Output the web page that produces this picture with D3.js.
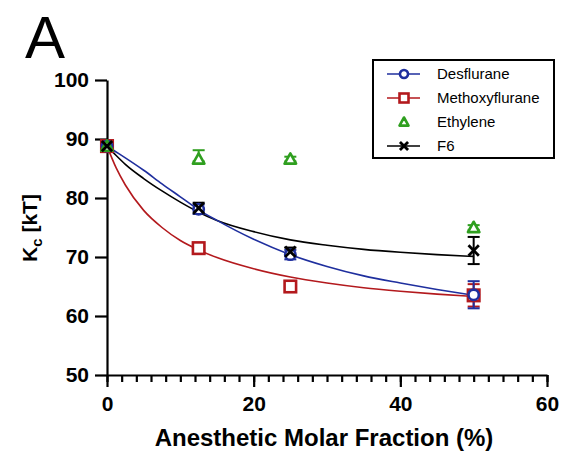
<!DOCTYPE html>
<html>
<head>
<meta charset="utf-8">
<script src="https://cdn.jsdelivr.net/npm/d3@7"></script>
<style>
  body { margin: 0; background: #fff; }
  svg { font-family: "Liberation Sans", Arial, sans-serif; }
  .axis path, .axis line { stroke: #000; stroke-width: 2.2px; }
  .axis text { font-size: 21px; font-weight: bold; fill: #000; }
</style>
</head>
<body>
<svg width="563" height="455"></svg>
<script>
// measured points
var fractions = [0, 12.5, 25, 50];
var desflurane = [88.8, 78.1, 70.4, 63.6];
var desfluraneErr = [0.5, 0.8, 0.8, 2.3];
var methoxyflurane = [88.8, 71.5, 65.0, 63.5];
var methoxyfluraneErr = [0.5, 0.6, 0.6, 1.9];
var ethylene = [88.8, 86.6, 86.6, 75.0];
var ethyleneErrUp = [0.5, 1.5, 0.4, 0.4];
var ethyleneErrDown = [0.5, 0.4, 0.4, 0.4];
var f6 = [88.8, 78.3, 70.9, 71.1];
var f6Err = [0.5, 0.9, 0.7, 2.3];

// fitted curves
var fitX = [0, 1.25, 2.5, 5, 7.5, 10, 12.5, 15, 20, 25, 30, 35, 40, 45, 50];
var fitDesflurane = [88.8, 87.8, 86.8, 84.7, 82.4, 80.2, 78.0, 76.2, 73.0, 70.4, 68.4, 66.8, 65.6, 64.5, 63.5];
var fitMethoxyflurane = [88.8, 85.1, 82.2, 77.9, 75.0, 72.8, 71.2, 69.9, 68.0, 66.6, 65.6, 64.8, 64.2, 63.7, 63.3];
var fitF6 = [88.8, 87.2, 85.7, 83.3, 81.2, 79.3, 77.6, 76.2, 74.3, 72.9, 72.0, 71.3, 70.8, 70.4, 70.1];

var xTicks = [0, 20, 40, 60];
var xMinorTicks = d3.range(0, 61, 2);
var yTicks = [50, 60, 70, 80, 90, 100];

var blue = "#1f2f9e", red = "#b3191d", green = "#2f9f1f", black = "#000";

var svg = d3.select("svg"),
    margin = {top: 80, right: 16, bottom: 80, left: 107},
    width = 547 - margin.left,
    height = 375 - margin.top,
    g = svg.append("g").attr("transform", "translate(" + margin.left + "," + margin.top + ")");

var x = d3.scaleLinear().domain([0, 60]).range([0, width]);
var y = d3.scaleLinear().domain([50, 100]).range([height, 0]);

// axes
g.append("g")
    .attr("class", "axis")
    .attr("transform", "translate(0," + height + ")")
    .call(d3.axisBottom(x).tickValues(xMinorTicks).tickSize(7).tickFormat(""))
    .call(function(a) { a.select(".domain").remove(); });

g.append("g")
    .attr("class", "axis")
    .attr("transform", "translate(0," + height + ")")
    .call(d3.axisBottom(x).tickValues(xTicks).tickSize(12).tickSizeOuter(0).tickPadding(9).tickFormat(d3.format("d")));

g.append("g")
    .attr("class", "axis")
    .call(d3.axisLeft(y).tickValues(yTicks).tickSize(12).tickSizeOuter(0).tickPadding(6).tickFormat(d3.format("d")));

// labels
svg.append("text")
    .attr("x", 25).attr("y", 58)
    .style("font-size", "60px")
    .text("A");

svg.append("text")
    .attr("x", 324).attr("y", 446)
    .attr("text-anchor", "middle")
    .style("font-size", "24px").style("font-weight", "bold")
    .text("Anesthetic Molar Fraction (%)");

var yl = svg.append("text")
    .attr("transform", "translate(37,228) rotate(-90)")
    .attr("text-anchor", "middle")
    .style("font-size", "21px").style("font-weight", "bold");
yl.append("tspan").text("K");
yl.append("tspan").attr("dy", 5).style("font-size", "15px").text("c");
yl.append("tspan").attr("dy", -5).text(" [kT]");

// fit lines
var fitLine = d3.line()
    .x(function(d, i) { return x(fitX[i]); })
    .y(function(d) { return y(d); })
    .curve(d3.curveMonotoneX);

[[fitMethoxyflurane, red], [fitF6, black], [fitDesflurane, blue]].forEach(function(s) {
  g.append("path")
      .datum(s[0])
      .attr("fill", "none")
      .attr("stroke", s[1])
      .attr("stroke-width", 1.6)
      .attr("d", fitLine);
});

// error bars
function errorBars(vals, errUp, errDown, color) {
  var eb = g.append("g").attr("stroke", color).attr("stroke-width", 2);
  vals.forEach(function(v, i) {
    var cx = x(fractions[i]);
    eb.append("line").attr("x1", cx).attr("x2", cx).attr("y1", y(v - errDown[i])).attr("y2", y(v + errUp[i]));
    [v - errDown[i], v + errUp[i]].forEach(function(e) {
      eb.append("line").attr("x1", cx - 6).attr("x2", cx + 6).attr("y1", y(e)).attr("y2", y(e));
    });
  });
}
errorBars(methoxyflurane, methoxyfluraneErr, methoxyfluraneErr, red);
errorBars(desflurane, desfluraneErr, desfluraneErr, blue);
errorBars(ethylene, ethyleneErrUp, ethyleneErrDown, green);
errorBars(f6, f6Err, f6Err, black);

// marker shapes
function marker(sel, kind, color, s) {
  if (kind == "circle") {
    sel.append("circle").attr("r", s * 0.45).attr("fill", "#fff").attr("stroke", color).attr("stroke-width", 2.6);
  } else if (kind == "square") {
    sel.append("rect").attr("x", -s / 2).attr("y", -s / 2).attr("width", s).attr("height", s)
        .attr("fill", "#fff").attr("stroke", color).attr("stroke-width", 2.6);
  } else if (kind == "triangle") {
    sel.append("path").attr("d", "M0," + (-s * 0.5) + "L" + (s * 0.5) + "," + (s * 0.4) + "L" + (-s * 0.5) + "," + (s * 0.4) + "Z")
        .attr("fill", "#fff").attr("stroke", color).attr("stroke-width", 2.6).attr("stroke-linejoin", "round");
  } else {
    var h = s * 0.45;
    sel.append("path").attr("d", "M" + (-h) + "," + (-h) + "L" + h + "," + h + "M" + h + "," + (-h) + "L" + (-h) + "," + h)
        .attr("stroke", color).attr("stroke-width", 2.8).attr("fill", "none");
  }
}

var series = [
  {name: "Methoxyflurane", vals: methoxyflurane, kind: "square", color: red},
  {name: "Desflurane", vals: desflurane, kind: "circle", color: blue},
  {name: "Ethylene", vals: ethylene, kind: "triangle", color: green},
  {name: "F6", vals: f6, kind: "x", color: black}
];

series.forEach(function(s) {
  g.selectAll(null)
    .data(s.vals)
    .enter().append("g")
      .attr("transform", function(d, i) { return "translate(" + x(fractions[i]) + "," + y(d) + ")"; })
      .each(function() { marker(d3.select(this), s.kind, s.color, 11.5); });
});

// legend
var legendItems = [
  {name: "Desflurane", kind: "circle", color: blue, line: true},
  {name: "Methoxyflurane", kind: "square", color: red, line: true},
  {name: "Ethylene", kind: "triangle", color: green, line: false},
  {name: "F6", kind: "x", color: black, line: true}
];

svg.append("rect")
    .attr("x", 373).attr("y", 60)
    .attr("width", 181).attr("height", 98)
    .attr("fill", "none").attr("stroke", "#000").attr("stroke-width", 2);

var legend = svg.selectAll(".legend")
  .data(legendItems)
  .enter().append("g")
    .attr("class", "legend")
    .attr("transform", function(d, i) { return "translate(0," + (74 + i * 24) + ")"; });

legend.filter(function(d) { return d.line; }).append("line")
    .attr("x1", 387).attr("x2", 420)
    .attr("stroke", function(d) { return d.color; })
    .attr("stroke-width", 1.6);

legend.append("g")
    .attr("transform", "translate(404,0)")
    .each(function(d) { marker(d3.select(this), d.kind, d.color, 9); });

legend.append("text")
    .attr("x", 437)
    .attr("dy", "0.36em")
    .style("font-size", "15px")
    .text(function(d) { return d.name; });
</script>
</body>
</html>
